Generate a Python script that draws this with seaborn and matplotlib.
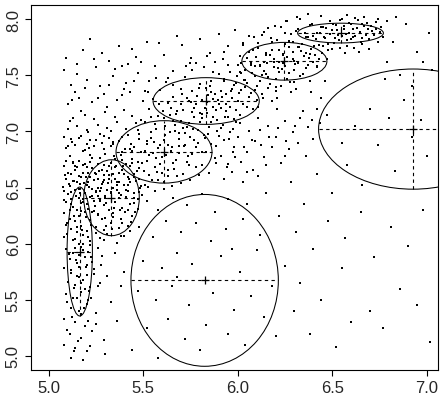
import numpy as np
import pandas as pd
import matplotlib
matplotlib.use("Agg")
import matplotlib.pyplot as plt
from matplotlib.patches import Ellipse
import seaborn as sns

# ---- ellipse summaries (centre, half-width in x, half-height in y) ----
ell_cx = [5.164, 5.332, 5.610, 5.833, 6.247, 6.544, 5.825, 6.928]
ell_cy = [5.930, 6.409, 6.817, 7.270, 7.624, 7.875, 5.673, 7.020]
ell_ax = [0.067, 0.147, 0.254, 0.281, 0.225, 0.227, 0.390, 0.500]
ell_by = [0.574, 0.338, 0.278, 0.208, 0.168, 0.088, 0.765, 0.535]
# crosshair half-lengths
cross_hx = [0.067, 0.147, 0.254, 0.281, 0.225, 0.227, 0.390, 0.500]
cross_hy = [0.574, 0.338, 0.278, 0.208, 0.168, 0.088, 0.000, 0.535]

x_ticks = [5.0, 5.5, 6.0, 6.5, 7.0]
y_ticks = [5.0, 5.5, 6.0, 6.5, 7.0, 7.5, 8.0]
x_tick_labels = ["5.0", "5.5", "6.0", "6.5", "7.0"]
y_tick_labels = ["5.0", "5.5", "6.0", "6.5", "7.0", "7.5", "8.0"]

# ---- scatter points, read region by region ----
pts_left_dense = [
(5.11,6.78),(5.16,6.74),(5.22,6.79),(5.27,6.76),(5.33,6.72),(5.38,6.79),(5.44,6.75),(5.19,6.71),(5.30,6.80),(5.47,6.73),(5.13,6.73),(5.41,6.71),
(5.08,6.69),(5.14,6.66),(5.18,6.70),(5.23,6.67),(5.26,6.71),(5.31,6.65),(5.35,6.68),(5.39,6.66),(5.43,6.69),(5.48,6.67),(5.12,6.62),(5.21,6.63),(5.29,6.61),(5.37,6.63),(5.45,6.62),
(5.09,6.58),(5.15,6.55),(5.17,6.59),(5.24,6.57),(5.28,6.53),(5.32,6.58),(5.36,6.55),(5.40,6.52),(5.46,6.56),(5.49,6.51),(5.11,6.51),(5.20,6.52),(5.26,6.50),(5.34,6.50),(5.42,6.59),(5.13,6.56),(5.22,6.59),
(5.08,6.47),(5.10,6.44),(5.14,6.48),(5.19,6.45),(5.23,6.42),(5.27,6.47),(5.30,6.41),(5.33,6.45),(5.38,6.43),(5.41,6.48),(5.45,6.41),(5.16,6.41),(5.25,6.46),(5.36,6.48),(5.48,6.46),(5.12,6.40),
(5.09,6.37),(5.13,6.33),(5.17,6.36),(5.21,6.31),(5.24,6.38),(5.29,6.34),(5.32,6.30),(5.35,6.37),(5.39,6.32),(5.43,6.35),(5.47,6.31),(5.15,6.30),(5.27,6.39),
(5.08,6.27),(5.11,6.22),(5.16,6.25),(5.19,6.28),(5.22,6.21),(5.26,6.26),(5.30,6.23),(5.34,6.27),(5.38,6.22),(5.44,6.25),(5.14,6.20),(5.24,6.29),
(5.09,6.17),(5.12,6.13),(5.17,6.16),(5.20,6.11),(5.25,6.15),(5.29,6.12),(5.33,6.18),(5.37,6.14),(5.42,6.16),(5.15,6.10),
(5.08,6.06),(5.13,6.03),(5.18,6.08),(5.22,6.02),(5.27,6.05),(5.31,6.09),(5.36,6.01),(5.40,6.07),(5.16,6.00),
(5.10,6.63),(5.18,6.63),(5.25,6.62),(5.21,6.55),(5.29,6.57),(5.16,6.49),(5.23,6.49),(5.31,6.48),(5.18,6.40),(5.26,6.42),(5.20,6.35),(5.12,6.46),(5.28,6.66),(5.34,6.62),(5.14,6.69),(5.22,6.73),(5.35,6.75),(5.40,6.62),(5.43,6.55),(5.37,6.45),
(5.085,6.615),(5.105,6.532),(5.127,6.718),(5.143,6.421),(5.158,6.603),(5.172,6.287),(5.186,6.538),(5.203,6.681),(5.217,6.412),(5.231,6.759),(5.246,6.338),(5.262,6.574),(5.277,6.492),(5.291,6.703),
(5.305,6.365),(5.318,6.611),(5.332,6.456),(5.347,6.782),(5.361,6.523),(5.376,6.297),(5.392,6.688),(5.407,6.417),(5.423,6.576),(5.438,6.829),(5.452,6.362),(5.467,6.645),(5.483,6.498),(5.496,6.714),
(5.079,6.392),(5.094,6.184),(5.112,6.301),(5.131,6.561),(5.149,6.147),(5.165,6.452),(5.181,6.824),(5.196,6.233),(5.212,6.504),(5.226,6.168),(5.243,6.627),(5.258,6.259),(5.273,6.381),(5.288,6.547),
(5.302,6.157),(5.321,6.694),(5.338,6.234),(5.353,6.579),(5.371,6.408),(5.386,6.745),(5.401,6.281),(5.418,6.468),(5.436,6.193),(5.449,6.592),(5.471,6.402),(5.488,6.812),
(5.076,6.502),(5.089,6.734),(5.103,6.866),(5.118,6.349),(5.134,6.247),(5.151,6.684),(5.167,6.533),(5.183,6.375),(5.199,6.597),(5.214,6.856),(5.229,6.281),(5.248,6.471),(5.266,6.651),(5.281,6.218),
(5.297,6.428),(5.313,6.538),(5.328,6.872),(5.344,6.319),(5.358,6.687),(5.373,6.552),(5.389,6.188),(5.405,6.843),(5.421,6.519),(5.441,6.716),(5.459,6.285),(5.478,6.573),(5.494,6.437),
(5.098,6.082),(5.139,6.043),(5.176,6.121),(5.208,6.058),(5.252,6.093),(5.294,6.036),(5.336,6.127),(5.383,6.064),(5.428,6.109),
(5.121,6.902),(5.162,6.941),(5.205,6.889),(5.249,6.927),(5.294,6.963),(5.341,6.908),(5.387,6.952),(5.433,6.891),(5.478,6.972),
]
pts_left_upper = [
(5.09,6.85),(5.14,6.88),(5.19,6.83),(5.24,6.87),(5.29,6.84),(5.34,6.89),(5.39,6.82),(5.45,6.86),(5.12,6.93),(5.17,6.96),(5.22,6.92),(5.27,6.98),(5.32,6.94),(5.37,6.91),(5.42,6.97),(5.48,6.93),
(5.10,7.02),(5.15,7.05),(5.20,7.01),(5.26,7.06),(5.31,7.03),(5.36,7.08),(5.41,7.02),(5.46,7.07),(5.13,7.12),(5.19,7.15),(5.24,7.11),(5.30,7.17),(5.35,7.13),(5.40,7.19),(5.44,7.14),(5.49,7.10),
(5.08,6.95),(5.11,7.09),(5.28,6.90),(5.43,6.84),(5.17,7.18),(5.33,7.00),(5.47,7.01),(5.21,6.99),
]
pts_left_top = [
(5.10,7.24),(5.16,7.30),(5.23,7.26),(5.29,7.33),(5.36,7.28),(5.43,7.35),(5.50,7.27),(5.12,7.41),(5.20,7.46),(5.27,7.40),(5.34,7.49),(5.41,7.43),(5.47,7.52),(5.08,7.55),(5.15,7.60),
(5.25,7.57),(5.32,7.63),(5.39,7.58),(5.46,7.66),(5.18,7.72),(5.28,7.70),(5.37,7.76),(5.44,7.73),(5.22,7.82),(5.52,7.80),(5.09,7.65),(5.31,7.22),(5.40,7.38),(5.53,7.45),(5.14,7.35),
(5.124,7.281),(5.191,7.382),(5.262,7.297),(5.318,7.412),(5.386,7.321),(5.452,7.448),(5.507,7.361),(5.148,7.512),(5.239,7.642),(5.351,7.552),(5.418,7.602),(5.489,7.621),
(5.561,7.582),(5.612,7.683),(5.657,7.541),(5.704,7.772),(5.752,7.651),(5.803,7.823),(5.853,7.702),(5.902,7.871),(5.948,7.762),(5.987,7.905),(5.585,7.791),(5.678,7.852),
(5.781,7.612),(5.881,7.618),(5.633,7.478),(5.728,7.582),
]
pts_left_low = [
(5.09,5.95),(5.13,5.92),(5.17,5.97),(5.21,5.93),(5.26,5.96),(5.11,5.86),(5.15,5.83),(5.19,5.88),(5.23,5.84),(5.28,5.89),(5.08,5.78),(5.12,5.74),(5.16,5.79),(5.20,5.72),(5.24,5.77),
(5.10,5.66),(5.14,5.63),(5.18,5.68),(5.22,5.61),(5.27,5.65),(5.09,5.55),(5.13,5.52),(5.17,5.57),(5.21,5.50),(5.12,5.43),(5.16,5.40),(5.20,5.46),(5.25,5.38),(5.08,5.33),(5.14,5.30),
(5.19,5.27),(5.11,5.20),(5.17,5.16),(5.23,5.22),(5.08,5.10),(5.14,5.07),(5.20,5.04),(5.12,4.98),(5.18,4.96),(5.30,5.02),(5.33,5.48),(5.36,5.31),(5.31,5.71),(5.35,5.92),(5.38,5.62),
(5.29,5.14),(5.18,6.00),(5.15,5.71),(5.19,5.60),(5.16,5.90),(5.20,5.81),(5.14,5.96),(5.22,5.99),
(5.105,5.912),(5.143,5.852),(5.182,5.942),(5.224,5.881),(5.118,5.762),(5.158,5.703),(5.197,5.792),(5.238,5.733),(5.131,5.601),(5.172,5.652),(5.211,5.582),(5.097,5.482),(5.148,5.512),
(5.187,5.431),(5.226,5.512),(5.121,5.351),(5.168,5.372),(5.207,5.312),(5.251,5.281),(5.095,5.231),(5.153,5.132),(5.218,5.091),(5.131,5.041),(5.262,5.621),(5.276,5.812),
]
pts_mid = [
(5.51,6.52),(5.53,6.61),(5.56,6.68),(5.58,6.57),(5.52,6.74),(5.55,6.81),(5.59,6.88),(5.54,6.94),(5.57,7.02),(5.51,7.08),(5.58,7.14),(5.53,7.20),(5.56,6.47),(5.60,6.63),(5.52,6.89),(5.57,6.76),(5.55,7.29),(5.59,7.37),(5.54,6.99),
(5.61,6.55),(5.63,6.66),(5.66,6.72),(5.68,6.60),(5.62,6.79),(5.65,6.86),(5.69,6.93),(5.64,6.99),(5.67,7.06),(5.61,7.12),(5.68,7.18),(5.63,7.25),(5.66,7.31),(5.70,7.38),(5.62,7.44),(5.65,6.51),(5.69,6.81),(5.61,6.92),(5.67,7.00),(5.64,7.15),(5.70,7.09),
(5.71,6.62),(5.73,6.73),(5.76,6.80),(5.78,6.68),(5.72,6.88),(5.75,6.95),(5.79,7.01),(5.74,7.07),(5.77,7.13),(5.71,7.19),(5.78,7.24),(5.73,7.30),(5.76,7.36),(5.80,7.42),(5.72,7.48),(5.75,6.57),(5.79,6.90),(5.71,7.03),(5.77,7.21),(5.74,7.27),(5.80,7.16),(5.76,7.55),
(5.81,6.70),(5.83,6.82),(5.86,6.89),(5.88,6.76),(5.82,6.97),(5.85,7.04),(5.89,7.10),(5.84,7.16),(5.87,7.22),(5.81,7.28),(5.88,7.33),(5.83,7.39),(5.86,7.45),(5.90,7.51),(5.82,7.57),(5.85,6.63),(5.89,7.00),(5.81,7.12),(5.87,7.29),(5.84,7.26),(5.90,7.24),(5.86,7.35),
(5.91,6.78),(5.93,6.92),(5.96,6.99),(5.98,6.86),(5.92,7.06),(5.95,7.13),(5.99,7.19),(5.94,7.24),(5.97,7.30),(5.91,7.36),(5.98,7.41),(5.93,7.47),(5.96,7.53),(6.00,7.59),(5.92,7.64),(5.95,6.71),(5.99,7.08),(5.91,7.21),(5.97,7.38),(5.94,7.33),(6.00,7.27),
(5.505,6.643),(5.518,6.912),(5.532,6.788),(5.547,6.566),(5.561,7.061),(5.576,6.853),(5.589,6.705),(5.603,7.182),(5.617,6.964),(5.631,6.601),(5.645,6.827),(5.659,7.092),(5.673,6.745),(5.687,6.981),
(5.701,7.247),(5.715,6.867),(5.729,7.043),(5.743,6.702),(5.757,7.172),(5.771,6.921),(5.785,7.318),(5.799,7.084),(5.813,6.817),(5.827,7.207),(5.841,6.976),(5.855,7.401),(5.869,7.129),(5.883,6.872),
(5.897,7.278),(5.911,7.031),(5.925,7.452),(5.939,7.182),(5.953,6.934),(5.967,7.356),(5.981,7.108),(5.995,7.497),
(5.511,6.822),(5.526,6.508),(5.541,7.128),(5.556,6.907),(5.571,6.634),(5.586,7.242),(5.601,6.771),(5.616,7.045),(5.631,6.882),(5.646,7.208),(5.661,6.662),(5.676,7.151),(5.691,6.873),(5.706,7.335),
(5.721,6.987),(5.736,6.783),(5.751,7.264),(5.766,7.018),(5.781,6.861),(5.796,7.389),(5.811,7.154),(5.826,6.942),(5.841,7.326),(5.856,7.079),(5.871,7.524),(5.886,7.192),(5.901,6.955),(5.916,7.308),
(5.931,7.127),(5.946,7.588),(5.961,7.219),(5.976,7.017),(5.991,7.431),
(5.523,7.351),(5.568,7.471),(5.612,6.483),(5.657,7.412),(5.702,6.538),(5.748,7.611),(5.793,6.612),(5.838,7.671),(5.884,6.721),(5.929,7.703),(5.974,6.812),
]
pts_upper = [
(6.01,7.15),(6.03,7.24),(6.06,7.31),(6.08,7.20),(6.02,7.37),(6.05,7.43),(6.09,7.49),(6.04,7.55),(6.07,7.61),(6.01,7.67),(6.08,7.72),(6.03,7.79),(6.06,7.85),(6.10,7.40),(6.02,7.52),(6.07,7.34),(6.04,7.46),(6.09,7.58),(6.05,7.65),(6.10,7.28),(6.01,7.07),
(6.11,7.22),(6.13,7.33),(6.16,7.39),(6.18,7.27),(6.12,7.45),(6.15,7.51),(6.19,7.57),(6.14,7.62),(6.17,7.68),(6.11,7.74),(6.18,7.80),(6.13,7.86),(6.16,7.92),(6.20,7.47),(6.12,7.58),(6.17,7.42),(6.14,7.54),(6.19,7.64),(6.15,7.70),(6.20,7.36),(6.11,7.12),
(6.21,7.30),(6.23,7.40),(6.26,7.47),(6.28,7.35),(6.22,7.53),(6.25,7.58),(6.29,7.64),(6.24,7.69),(6.27,7.75),(6.21,7.81),(6.28,7.87),(6.23,7.93),(6.26,7.98),(6.30,7.55),(6.22,7.62),(6.27,7.52),(6.24,7.61),(6.29,7.71),(6.25,7.78),(6.30,7.44),(6.21,7.20),
(6.31,7.38),(6.33,7.49),(6.36,7.56),(6.38,7.45),(6.32,7.61),(6.35,7.67),(6.39,7.73),(6.34,7.78),(6.37,7.84),(6.31,7.89),(6.38,7.95),(6.33,8.00),(6.36,7.70),(6.40,7.62),(6.32,7.75),(6.37,7.59),
(6.005,7.337),(6.019,7.612),(6.034,7.458),(6.048,7.221),(6.062,7.704),(6.077,7.519),(6.091,7.368),(6.105,7.783),(6.119,7.593),(6.134,7.297),(6.148,7.678),(6.162,7.481),(6.177,7.835),(6.191,7.614),
(6.205,7.392),(6.219,7.721),(6.234,7.557),(6.248,7.873),(6.262,7.662),(6.277,7.441),(6.291,7.794),(6.305,7.603),(6.319,7.912),(6.334,7.711),(6.348,7.512),(6.362,7.838),(6.377,7.652),(6.391,7.953),
(6.405,7.762),(6.419,7.571),(6.434,7.874),(6.448,7.701),
(6.012,7.532),(6.041,7.396),(6.069,7.587),(6.098,7.661),(6.126,7.498),(6.155,7.612),(6.184,7.728),(6.212,7.566),(6.241,7.683),(6.269,7.802),(6.298,7.627),(6.327,7.748),(6.355,7.873),(6.384,7.692),
(6.412,7.821),(6.441,7.932),
(6.026,7.765),(6.084,7.842),(6.141,7.881),(6.198,7.942),(6.256,7.985),(6.313,8.021),(6.371,8.043),(6.428,7.642),
]
pts_top = [
(6.41,7.68),(6.43,7.77),(6.46,7.83),(6.48,7.72),(6.42,7.88),(6.45,7.93),(6.49,7.98),(6.44,8.03),(6.51,7.79),(6.53,7.86),(6.56,7.91),(6.58,7.81),(6.52,7.95),(6.55,8.00),(6.59,7.88),(6.54,7.74),
(6.61,7.84),(6.63,7.92),(6.66,7.96),(6.68,7.86),(6.62,8.01),(6.65,7.80),(6.69,7.91),(6.64,7.71),(6.71,7.89),(6.73,7.97),(6.47,7.64),(6.57,7.70),(6.50,7.90),(6.60,7.96),(6.45,7.76),(6.67,8.02),
(6.42,7.58),(6.40,7.85),(6.58,8.04),
(6.457,7.842),(6.468,7.923),(6.479,7.781),(6.491,7.867),(6.503,7.952),(6.515,7.828),(6.527,7.901),(6.539,7.993),(6.551,7.851),(6.563,7.938),(6.575,7.871),(6.587,7.962),(6.599,7.818),(6.611,7.907),
(6.623,7.853),(6.635,7.991),(6.647,7.881),(6.659,7.832),(6.671,7.937),(6.683,7.968),(6.695,7.822),(6.707,7.941),(6.719,7.862),(6.731,7.908),(6.743,7.795),(6.755,7.889),(6.497,7.733),(6.537,7.812),
(6.577,7.762),(6.617,7.746),(6.657,7.774),(6.697,7.731),(6.745,7.998),(6.771,7.842),(6.791,7.981),
(6.76,7.93),(6.82,7.80),(6.89,7.96),(6.95,7.71),(6.79,7.62),(6.86,7.50),(7.01,7.88),(6.92,7.40),(6.98,7.62),(6.78,7.47),(6.84,8.02),(7.03,7.55),
]
pts_below_band = [
(5.93,6.58),(5.97,6.64),(6.02,6.73),(6.05,6.82),(6.09,6.91),(6.12,7.01),(6.16,7.05),(6.20,6.95),(6.25,7.09),(6.29,6.99),(6.33,7.12),(6.37,7.04),(6.42,7.20),(6.03,6.55),
(6.08,6.66),(6.14,6.77),(6.18,6.86),(6.23,6.72),(6.27,6.84),(6.32,6.90),(6.36,6.78),(6.40,6.93),(6.44,7.30),(6.39,7.35),(6.46,7.45),(6.11,6.60),(6.00,6.95),(6.06,7.00),
(5.942,6.681),(5.986,6.772),(6.031,6.862),(6.076,6.921),(6.121,6.882),(6.166,6.951),(6.211,7.032),(6.256,6.912),(6.301,7.052),(6.346,7.181),(6.391,7.102),(6.436,7.071),(6.051,6.642),(6.151,6.702),(6.251,6.781),
]
pts_low_sparse = [
(5.45,6.45),(5.52,6.38),(5.58,6.30),(5.66,6.41),(5.73,6.34),(5.81,6.44),(5.88,6.28),(5.95,6.40),(6.05,6.35),(6.15,6.45),(5.48,6.15),(5.55,6.06),(5.62,6.20),(5.70,6.10),(5.78,6.18),
(5.86,6.02),(5.94,6.13),(6.03,6.22),(6.12,6.08),(6.22,6.25),(5.50,5.85),(5.60,5.78),(5.68,5.92),(5.76,5.82),(5.91,5.89),(6.01,5.75),(6.10,5.94),(5.47,5.58),(5.57,5.50),(5.65,5.62),
(5.74,5.45),(5.87,5.56),(5.98,5.41),(6.07,5.53),(6.18,5.62),(5.52,5.25),(5.63,5.33),(5.72,5.15),(5.83,5.28),(5.95,5.20),(6.04,5.10),(6.14,5.35),(5.44,5.05),(5.58,4.98),(5.80,5.05),
(6.20,5.18),(5.40,5.75),(5.42,6.30),(5.68,5.70),(5.97,5.95),(6.25,5.80),
(6.28,6.55),(6.35,6.35),(6.42,6.62),(6.50,6.45),(6.58,6.70),(6.66,6.52),(6.74,6.88),(6.83,6.65),(6.92,6.95),(7.00,6.78),(6.31,6.10),(6.40,5.95),(6.48,6.20),(6.57,6.05),(6.65,6.28),
(6.72,5.88),(6.81,6.15),(6.90,5.98),(6.98,6.30),(6.33,5.65),(6.44,5.50),(6.55,5.78),(6.70,5.40),(6.86,5.60),(6.95,5.45),(6.38,5.20),(6.52,5.08),(6.77,5.25),(7.02,5.12),(6.62,7.05),
(6.70,7.20),(6.80,7.12),(6.88,7.28),(6.97,7.10),(6.55,6.90),(6.47,7.15),(6.60,5.30),(6.30,5.40),
]

all_pts = (pts_left_dense + pts_left_upper + pts_left_top + pts_left_low + pts_mid
           + pts_upper + pts_top + pts_below_band + pts_low_sparse)
df = pd.DataFrame(all_pts, columns=["x", "y"])

sns.set_style("white")
plt.rcParams["font.family"] = ["Liberation Sans", "DejaVu Sans"]

fig = plt.figure(figsize=(4.43, 4.02), dpi=100)
ax = fig.add_axes([31/443, 1-371/402, 407/443, 365/402])

sns.scatterplot(data=df, x="x", y="y", ax=ax, marker="s", s=1.4, color="black",
                linewidth=0, legend=False)

for cx, cy, a, b in zip(ell_cx, ell_cy, ell_ax, ell_by):
    ax.add_patch(Ellipse((cx, cy), 2*a, 2*b, fill=False, edgecolor="black", lw=0.75))
for cx, cy, hx, hy in zip(ell_cx, ell_cy, cross_hx, cross_hy):
    ax.plot([cx - hx, cx + hx], [cy, cy], color="black", lw=0.8, linestyle=(0, (3, 3)))
    if hy > 0:
        ax.plot([cx, cx], [cy - hy, cy + hy], color="black", lw=0.8, linestyle=(0, (3, 3)))
ax.scatter(ell_cx, ell_cy, marker="+", s=30, color="black", linewidths=0.9)

ax.set_xlim(4.906, 7.06)
ax.set_ylim(4.875, 8.125)
ax.set_xticks(x_ticks)
ax.set_xticklabels(x_tick_labels)
ax.set_yticks(y_ticks)
ax.set_yticklabels(y_tick_labels, rotation=90, va="center")
ax.set_xlabel("")
ax.set_ylabel("")
ax.tick_params(axis="both", direction="out", length=4.3, width=0.8, color="black",
               labelsize=12, pad=3, left=True, bottom=True)
for sp in ax.spines.values():
    sp.set_visible(True)
    sp.set_color("black")
    sp.set_linewidth(0.8)

fig.savefig("out.png", dpi=100)
